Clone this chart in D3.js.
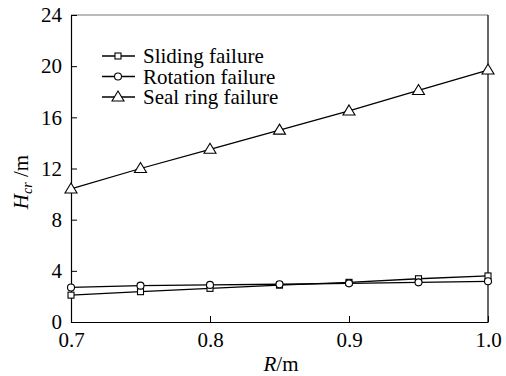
<!DOCTYPE html>
<html>
<head>
<meta charset="utf-8">
<script src="https://cdn.jsdelivr.net/npm/d3@7"></script>
<style>
  body { margin: 0; background: #fff; }
</style>
</head>
<body>
<svg id="chart" width="506" height="376"></svg>
<script>
// data
const radius = [0.7, 0.75, 0.8, 0.85, 0.9, 0.95, 1.0];
const sliding = [2.1, 2.37, 2.63, 2.88, 3.1, 3.38, 3.6];
const rotation = [2.7, 2.84, 2.9, 2.95, 3.02, 3.1, 3.18];
const sealRing = [10.4, 12.0, 13.5, 15.0, 16.5, 18.1, 19.7];
const xTicks = [0.7, 0.8, 0.9, 1.0];
const yTicks = [0, 4, 8, 12, 16, 20, 24];

const series = [
  { name: "Sliding failure", values: sliding, marker: "square" },
  { name: "Rotation failure", values: rotation, marker: "circle" },
  { name: "Seal ring failure", values: sealRing, marker: "triangle" }
];

const serif = "'Liberation Serif', 'Times New Roman', Times, 'DejaVu Serif', serif";

const svg = d3.select("#chart").attr("font-family", serif);
const plotLeft = 71, plotRight = 488, plotTop = 15, plotBottom = 322;

const x = d3.scaleLinear().domain([0.7, 1.0]).range([plotLeft, plotRight]);
const y = d3.scaleLinear().domain([0, 24]).range([plotBottom, plotTop]);

// frame
svg.append("line").attr("x1", plotLeft).attr("x2", plotRight).attr("y1", plotTop).attr("y2", plotTop)
  .attr("stroke", "#777").attr("stroke-width", 1.2);
svg.append("line").attr("x1", plotRight).attr("x2", plotRight).attr("y1", plotTop).attr("y2", plotBottom)
  .attr("stroke", "#000").attr("stroke-width", 1.2);

// axes, ticks pointing inside
const xAxis = svg.append("g").attr("transform", `translate(0,${plotBottom})`)
  .call(d3.axisBottom(x).tickValues(xTicks).tickFormat(d3.format(".1f")).tickSizeInner(-6).tickSizeOuter(0).tickPadding(10));
const yAxis = svg.append("g").attr("transform", `translate(${plotLeft},0)`)
  .call(d3.axisLeft(y).tickValues(yTicks).tickSizeInner(-6).tickSizeOuter(0).tickPadding(9));

[xAxis, yAxis].forEach(a => {
  a.attr("font-family", serif).attr("font-size", 21);
  a.select(".domain").attr("stroke", "#000").attr("stroke-width", 1.2);
  a.selectAll(".tick line").attr("stroke", "#000").attr("stroke-width", 1);
  a.selectAll(".tick text").attr("fill", "#000");
});

// axis titles
const xt = svg.append("text").attr("x", 281).attr("y", 371).attr("text-anchor", "middle")
  .attr("font-family", serif).attr("font-size", 21);
xt.append("tspan").attr("font-style", "italic").text("R");
xt.append("tspan").text("/m");

const yt = svg.append("text").attr("transform", "translate(28,182) rotate(-90)").attr("text-anchor", "middle")
  .attr("font-family", serif).attr("font-size", 21);
yt.append("tspan").attr("font-style", "italic").text("H");
yt.append("tspan").attr("font-style", "italic").attr("font-size", 14).attr("dy", 4).text("cr");
yt.append("tspan").attr("dy", -4).text(" /m");

// markers
function drawMarker(g, type, cx, cy) {
  if (type === "square") {
    g.append("rect").attr("x", cx - 3).attr("y", cy - 3).attr("width", 6).attr("height", 6)
      .attr("fill", "#fff").attr("stroke", "#000").attr("stroke-width", 1.1);
  } else if (type === "circle") {
    g.append("circle").attr("cx", cx).attr("cy", cy).attr("r", 3.5)
      .attr("fill", "#fff").attr("stroke", "#000").attr("stroke-width", 1.1);
  } else {
    g.append("path").attr("d", `M${cx},${cy - 6}L${cx + 6},${cy + 4}L${cx - 6},${cy + 4}Z`)
      .attr("fill", "#fff").attr("stroke", "#000").attr("stroke-width", 1.1);
  }
}

const line = d3.line().x((d, i) => x(radius[i])).y(d => y(d));
const plot = svg.append("g");
series.forEach(s => {
  plot.append("path").datum(s.values).attr("d", line)
    .attr("fill", "none").attr("stroke", "#000").attr("stroke-width", 1.3);
});
series.forEach(s => {
  const g = plot.append("g");
  s.values.forEach((v, i) => drawMarker(g, s.marker, x(radius[i]), y(v)));
});

// legend
const legend = svg.append("g");
series.forEach((s, i) => {
  const ly = 56 + i * 20.5;
  legend.append("line").attr("x1", 102).attr("x2", 135).attr("y1", ly).attr("y2", ly)
    .attr("stroke", "#000").attr("stroke-width", 1.3);
  drawMarker(legend, s.marker, 118, ly);
  legend.append("text").attr("x", 143).attr("y", ly + 7)
    .attr("font-family", serif).attr("font-size", 21).text(s.name);
});
</script>
</body>
</html>
